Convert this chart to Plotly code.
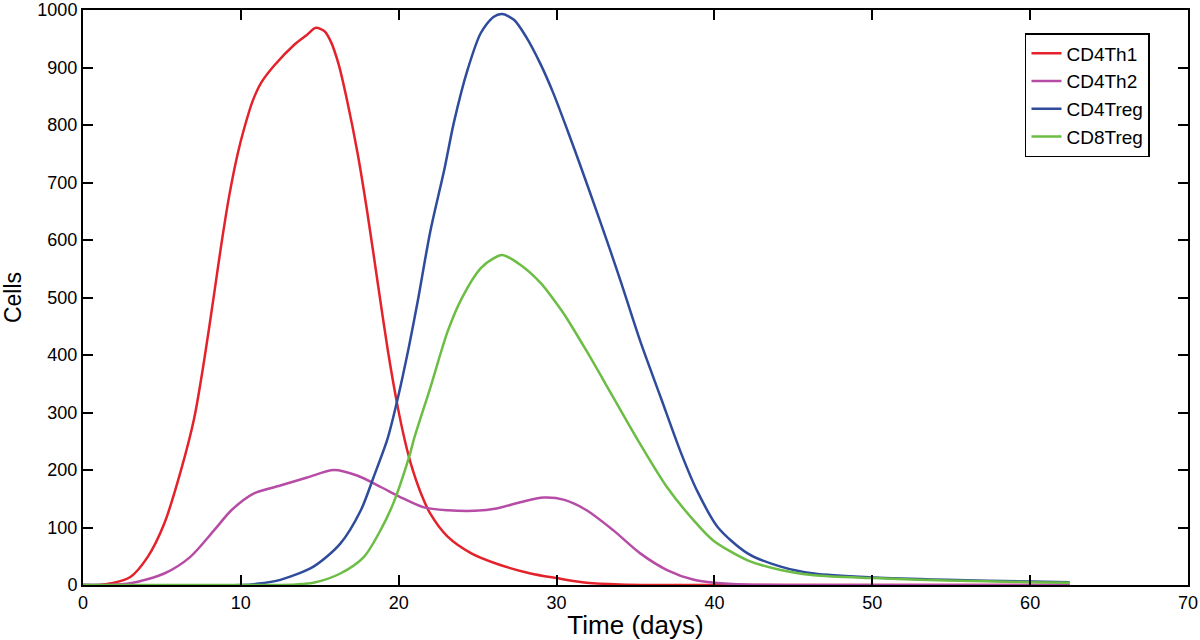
import plotly.graph_objects as go

# CD4Th1 (red)
th1_x = [0, 1, 1.8, 3, 4.1, 5.15, 6.2, 7.05, 7.7, 8.3, 8.75, 9.25, 9.8, 10.2, 10.75, 11.3, 12.1, 13.4, 14.2, 14.75,
         15.3, 15.7, 16.2, 16.75, 17.4, 18.0, 18.7, 19.3, 19.9, 20.4, 20.8, 21.4, 22.0, 23.1, 24.6, 26.2, 28.35, 30.0,
         31.9, 34, 37, 45, 55, 62.5]
th1_y = [0, 0, 3, 14, 49, 107, 199, 291, 395, 505, 590, 675, 750, 793, 842, 874, 903, 940, 957, 969,
         963, 945, 905, 840, 750, 650, 520, 410, 315, 250, 208, 160, 124, 84, 55, 37, 20, 12,
         4, 1, 0, 0, 0, 0]

# CD4Th2 (magenta)
th2_x = [0, 1.5, 3, 5.15, 6.8, 8.3, 9.4, 10.8, 12.5, 14.2, 15.9, 17.4, 18.9, 20.1, 21.6, 23.1, 24.8, 26.2, 27.7,
         29.2, 30.5, 31.9, 33.6, 35.3, 37.0, 38.7, 40, 42, 50, 62.5]
th2_y = [0, 0, 3, 20, 49, 95, 130, 159, 173, 187, 200, 190, 170, 153, 135, 130, 129, 133, 144,
         152, 148, 130, 95, 55, 26, 9, 4, 1, 0, 0]

# CD4Treg (blue)
treg4_x = [0, 10, 11, 12.5, 14.6, 16.3, 17.6, 18.4, 19.3, 19.9, 20.65, 21.2, 22.0, 22.9, 23.5, 24.35, 25.2, 26.0,
           26.56, 27.3, 28.1, 29.0, 29.8, 30.7, 31.5, 32.6, 33.4, 34.1, 35.3, 36.6, 37.85, 38.9, 40.2, 42.1,
           44.2, 46.3, 50.1, 54.7, 60, 62.5]
treg4_y = [0, 0, 2, 9, 32, 72, 130, 187, 255, 320, 415, 493, 615, 724, 805, 895, 960, 988,
           993, 983, 952, 905, 855, 790, 730, 645, 582, 525, 424, 326, 232, 164, 101, 55,
           32, 20, 13, 9, 6, 5]

# CD8Treg (green)
treg8_x = [0, 12, 13.5, 14.6, 16.3, 17.8, 18.9, 19.7, 20.65, 21.0, 22.0, 23.1, 24.0, 25.2, 26.0, 26.56, 27.7,
           29.0, 29.8, 30.5, 31.9, 33.6, 35.3, 37.0, 38.7, 39.9, 42.1, 44.2, 46.3, 50.1, 54.7, 60, 62.5]
treg8_y = [0, 0, 1, 4, 20, 49, 98, 145, 222, 257, 343, 441, 499, 551, 568, 574, 557,
           525, 497, 470, 407, 326, 245, 170, 112, 78, 43, 26, 17, 12, 8, 5, 4]

series = [
    ("CD4Th1", th1_x, th1_y, "#E3222B"),
    ("CD4Th2", th2_x, th2_y, "#B64CA5"),
    ("CD4Treg", treg4_x, treg4_y, "#2E4B9C"),
    ("CD8Treg", treg8_x, treg8_y, "#6CBD44"),
]

x_ticks = [0, 10, 20, 30, 40, 50, 60, 70]
y_ticks = [0, 100, 200, 300, 400, 500, 600, 700, 800, 900, 1000]

FONT = "Liberation Sans, Arial, Helvetica, sans-serif"

fig = go.Figure()
for name, xs, ys, col in series:
    fig.add_trace(go.Scatter(x=xs, y=ys, mode="lines", name=name,
                             line=dict(color=col, width=2.5, shape="spline", smoothing=0.8)))

axis_common = dict(showline=True, linecolor="black", linewidth=2, mirror="allticks",
                   ticks="inside", ticklen=10, tickwidth=2, tickcolor="black",
                   showgrid=False, zeroline=False, automargin=False, ticklabeloverflow="allow",
                   tickfont=dict(family=FONT, size=18, color="black"))

fig.update_xaxes(range=[0, 70], tickvals=x_ticks, ticktext=[str(v) for v in x_ticks],
                 title=dict(text="Time (days)", font=dict(family=FONT, size=26, color="black"), standoff=7),
                 **axis_common)
fig.update_yaxes(range=[0, 1000], tickvals=y_ticks, ticktext=[str(v) for v in y_ticks],
                 title=dict(text="Cells", font=dict(family=FONT, size=23, color="black"), standoff=18),
                 **axis_common)

fig.update_layout(
    width=1200, height=640,
    margin=dict(l=83, r=12, t=10, b=55),
    plot_bgcolor="white", paper_bgcolor="white",
    font=dict(family=FONT, color="black"),
    legend=dict(x=0.9656, y=0.96, xanchor="right", yanchor="top",
                bgcolor="white", bordercolor="black", borderwidth=1.5,
                font=dict(family=FONT, size=19, color="black"),
                itemwidth=30, tracegroupgap=0),
    showlegend=True,
)

fig.write_html("out.html", config={"displayModeBar": False},
               post_script="document.body.style.margin='0';")
